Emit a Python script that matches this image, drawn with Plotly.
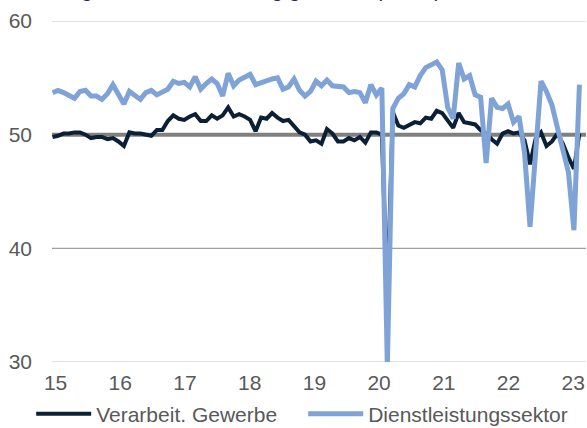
import plotly.graph_objects as go

# Monthly data, Jan 2015 - Jan 2023 (index points)
months = [f"{y}-{m:02d}" for y in range(2015, 2023) for m in range(1, 13)] + ["2023-01"]

verarbeit = [
    49.8, 49.9, 50.1, 50.1, 50.2, 50.2, 50.0, 49.7, 49.8, 49.8, 49.6, 49.7,
    49.4, 49.0, 50.2, 50.1, 50.1, 50.0, 49.9, 50.4, 50.4, 51.2, 51.7, 51.4,
    51.3, 51.6, 51.8, 51.2, 51.2, 51.7, 51.4, 51.7, 52.4, 51.6, 51.8, 51.6,
    51.3, 50.3, 51.5, 51.4, 51.9, 51.5, 51.2, 51.3, 50.8, 50.2, 50.0, 49.4,
    49.5, 49.2, 50.5, 50.1, 49.4, 49.4, 49.7, 49.5, 49.8, 49.3, 50.2, 50.2,
    50.0, 35.7, 52.0, 50.8, 50.6, 50.9, 51.1, 51.0, 51.5, 51.4, 52.1, 51.9,
    51.3, 50.6, 51.9, 51.1, 51.0, 50.9, 50.4, 50.1, 49.6, 49.2, 50.1, 50.3,
    50.1, 50.2, 49.5, 47.4, 49.6, 50.2, 49.0, 49.4, 50.1, 49.2, 48.0, 47.0,
    50.1,
]

dienst = [
    53.7, 53.9, 53.7, 53.4, 53.2, 53.8, 53.9, 53.4, 53.4, 53.1, 53.6, 54.4,
    53.5, 52.7, 53.8, 53.5, 53.1, 53.7, 53.9, 53.5, 53.7, 54.0, 54.7, 54.5,
    54.6, 54.2, 55.1, 54.0, 54.5, 54.9, 54.5, 53.4, 55.4, 54.3, 54.8, 55.0,
    55.3, 54.4, 54.6, 54.8, 54.9, 55.0, 54.0, 54.2, 54.9, 53.9, 53.4, 53.8,
    54.7, 54.3, 54.8, 54.3, 54.3, 54.2, 53.7, 53.8, 53.7, 52.8, 54.4, 53.5,
    54.1, 29.6, 52.3, 53.2, 53.6, 54.4, 54.2, 55.2, 55.9, 56.2, 56.4, 55.7,
    52.4, 51.4, 56.3, 54.9, 55.2, 53.5, 53.3, 47.5, 53.2, 52.4, 52.3, 52.7,
    51.1, 51.6, 48.4, 41.9, 47.8, 54.7, 53.8, 52.6, 50.6, 48.7, 46.7, 41.6,
    54.4,
]

tick_labels = ["15", "16", "17", "18", "19", "20", "21", "22", "23"]
y_ticks = [30, 40, 50, 60]

x = list(range(len(months)))
tick_pos = [0.55 + 11.79 * k for k in range(len(tick_labels))]

NAVY = "#0b2036"
BLUE = "#7fa3d6"
TXT = "#595959"
FONT = "Liberation Sans, Arial, sans-serif"

fig = go.Figure()
fig.add_trace(go.Scatter(
    x=x, y=verarbeit, mode="lines", name="Verarbeit. Gewerbe",
    line=dict(color=NAVY, width=4), customdata=months,
    hovertemplate="%{customdata}: %{y}<extra></extra>",
))
fig.add_trace(go.Scatter(
    x=x, y=dienst, mode="lines", name="Dienstleistungssektor",
    line=dict(color=BLUE, width=5), customdata=months,
    hovertemplate="%{customdata}: %{y}<extra></extra>",
))

# horizontal reference lines
for lvl, col, w in [(30, "#d9d9d9", 1.5), (60, "#d9d9d9", 1.5), (40, "#a0a0a0", 1.3), (50, "#808080", 4)]:
    fig.add_shape(type="line", xref="paper", x0=0, x1=1, yref="y", y0=lvl, y1=lvl,
                  line=dict(color=col, width=w), layer="below")

fig.add_annotation(
    text="Einkaufsmanagerindizes: Stimmung gedrückt (Indexpunkte, saisonbereinigt)",
    xref="paper", yref="paper", x=0.47, y=1.053, xanchor="center", yanchor="bottom",
    showarrow=False, font=dict(family=FONT, size=21, color="#1f2d4d"),
)

fig.update_layout(
    width=587, height=428,
    margin=dict(l=52, r=1, t=21, b=66, autoexpand=False),
    paper_bgcolor="white", plot_bgcolor="white",
    font=dict(family=FONT, size=21, color=TXT),
    showlegend=True,
    legend=dict(orientation="h", x=-0.039, xanchor="left", y=-0.1525, yanchor="middle",
                font=dict(family=FONT, size=21, color=TXT), itemwidth=55,
                entrywidth=202, bgcolor="rgba(0,0,0,0)", traceorder="normal"),
    xaxis=dict(range=[-0.1, 97.2], tickmode="array", tickvals=tick_pos, ticktext=tick_labels,
               showgrid=False, zeroline=False, showline=False, ticks="", automargin=False,
               tickfont=dict(family=FONT, size=21, color=TXT), ticklabelstandoff=6),
    yaxis=dict(range=[30, 60], tickmode="array", tickvals=y_ticks,
               showgrid=False, zeroline=False, showline=False, ticks="", automargin=False,
               tickfont=dict(family=FONT, size=21, color=TXT), ticklabelstandoff=19),
)

fig.write_html("out.html", config={"displayModeBar": False},
               post_script="document.body.style.margin='0';")
